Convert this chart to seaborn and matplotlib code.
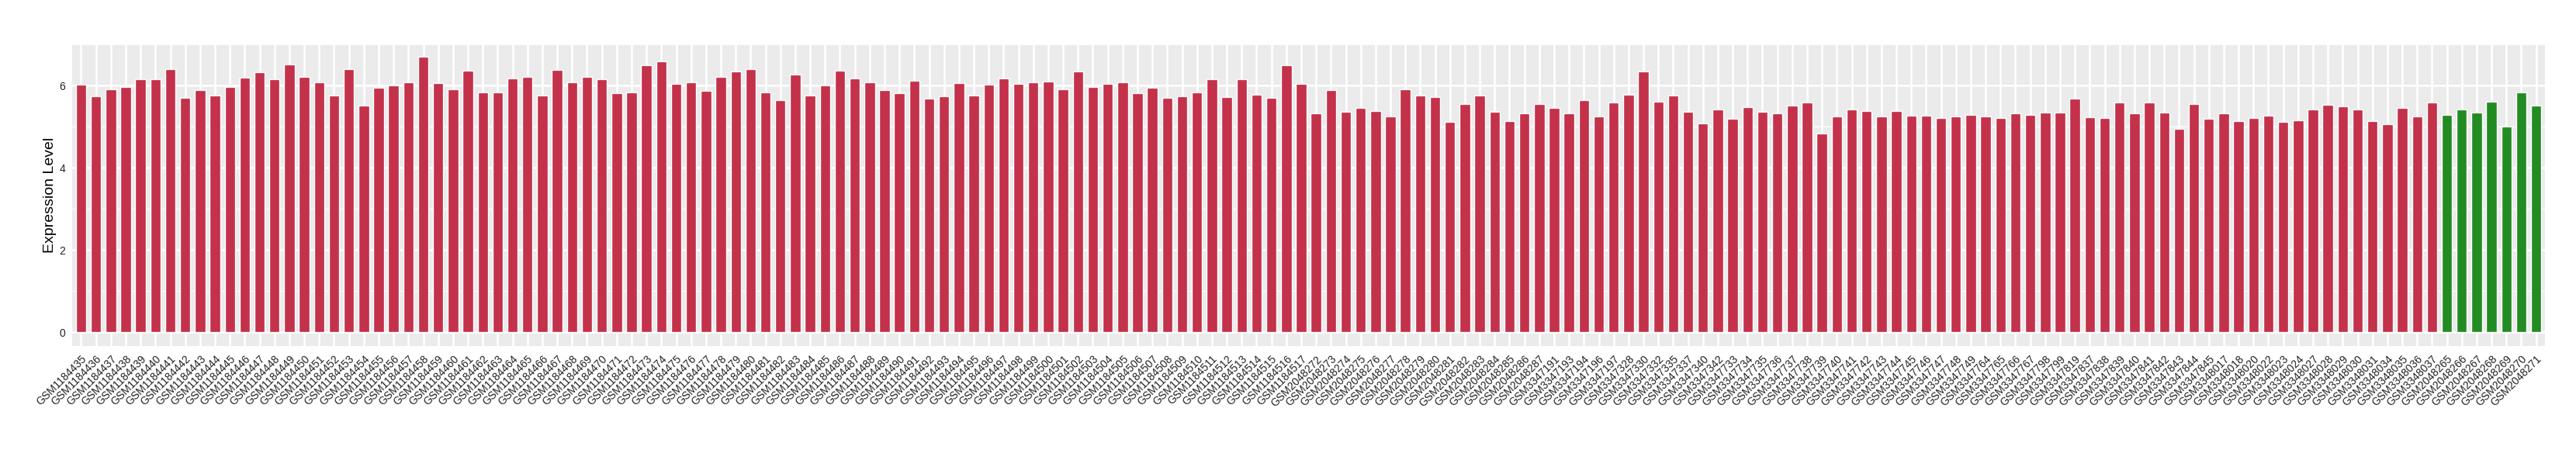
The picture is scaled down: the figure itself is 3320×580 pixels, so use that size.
import pandas as pd
import matplotlib
matplotlib.use('Agg')
import matplotlib.pyplot as plt
from matplotlib.ticker import MultipleLocator
import seaborn as sns

# samples of the first group (red bars)
red_samples = [
    'GSM1184435', 'GSM1184436', 'GSM1184437', 'GSM1184438', 'GSM1184439', 'GSM1184440', 'GSM1184441',
    'GSM1184442', 'GSM1184443', 'GSM1184444', 'GSM1184445', 'GSM1184446', 'GSM1184447', 'GSM1184448',
    'GSM1184449', 'GSM1184450', 'GSM1184451', 'GSM1184452', 'GSM1184453', 'GSM1184454', 'GSM1184455',
    'GSM1184456', 'GSM1184457', 'GSM1184458', 'GSM1184459', 'GSM1184460', 'GSM1184461', 'GSM1184462',
    'GSM1184463', 'GSM1184464', 'GSM1184465', 'GSM1184466', 'GSM1184467', 'GSM1184468', 'GSM1184469',
    'GSM1184470', 'GSM1184471', 'GSM1184472', 'GSM1184473', 'GSM1184474', 'GSM1184475', 'GSM1184476',
    'GSM1184477', 'GSM1184478', 'GSM1184479', 'GSM1184480', 'GSM1184481', 'GSM1184482', 'GSM1184483',
    'GSM1184484', 'GSM1184485', 'GSM1184486', 'GSM1184487', 'GSM1184488', 'GSM1184489', 'GSM1184490',
    'GSM1184491', 'GSM1184492', 'GSM1184493', 'GSM1184494', 'GSM1184495', 'GSM1184496', 'GSM1184497',
    'GSM1184498', 'GSM1184499', 'GSM1184500', 'GSM1184501', 'GSM1184502', 'GSM1184503', 'GSM1184504',
    'GSM1184505', 'GSM1184506', 'GSM1184507', 'GSM1184508', 'GSM1184509', 'GSM1184510', 'GSM1184511',
    'GSM1184512', 'GSM1184513', 'GSM1184514', 'GSM1184515', 'GSM1184516', 'GSM1184517',
    'GSM2048272', 'GSM2048273', 'GSM2048274', 'GSM2048275', 'GSM2048276', 'GSM2048277', 'GSM2048278',
    'GSM2048279', 'GSM2048280', 'GSM2048281', 'GSM2048282', 'GSM2048283', 'GSM2048284', 'GSM2048285',
    'GSM2048286', 'GSM2048287',
    'GSM3347191', 'GSM3347193', 'GSM3347194', 'GSM3347196', 'GSM3347197', 'GSM3347328', 'GSM3347330',
    'GSM3347332', 'GSM3347335', 'GSM3347337', 'GSM3347340', 'GSM3347342', 'GSM3347733', 'GSM3347734',
    'GSM3347735', 'GSM3347736', 'GSM3347737', 'GSM3347738', 'GSM3347739', 'GSM3347740', 'GSM3347741',
    'GSM3347742', 'GSM3347743', 'GSM3347744', 'GSM3347745', 'GSM3347746', 'GSM3347747', 'GSM3347748',
    'GSM3347749', 'GSM3347764', 'GSM3347765', 'GSM3347766', 'GSM3347767', 'GSM3347798', 'GSM3347799',
    'GSM3347819', 'GSM3347837', 'GSM3347838', 'GSM3347839', 'GSM3347840', 'GSM3347841', 'GSM3347842',
    'GSM3347843', 'GSM3347844', 'GSM3347845',
    'GSM3348017', 'GSM3348018', 'GSM3348020', 'GSM3348022', 'GSM3348023', 'GSM3348024', 'GSM3348027',
    'GSM3348028', 'GSM3348029', 'GSM3348030', 'GSM3348031', 'GSM3348034', 'GSM3348035', 'GSM3348036',
    'GSM3348037',
]
red_values = [
    6.02, 5.74, 5.92, 5.97, 6.16, 6.16, 6.41, 5.70, 5.89, 5.77, 5.97, 6.19, 6.32, 6.16,
    6.51, 6.21, 6.08, 5.76, 6.41, 5.51, 5.95, 6.00, 6.09, 6.70, 6.06, 5.92, 6.36,
    5.83, 5.83, 6.17, 6.22, 5.76, 6.38, 6.09, 6.21, 6.16, 5.81, 5.83, 6.49, 6.60, 6.04,
    6.09, 5.87, 6.21, 6.34, 6.41, 5.83, 5.65, 6.27, 5.76, 6.00, 6.36, 6.17, 6.08, 5.89, 5.81,
    6.13, 5.68, 5.74, 6.06, 5.77, 6.02, 6.17, 6.04, 6.08, 6.11, 5.92, 6.34, 5.97, 6.04,
    6.08, 5.81, 5.95, 5.70, 5.74, 5.83, 6.16, 5.72, 6.16, 5.79, 5.70, 6.49, 6.04,
    5.32, 5.90, 5.36, 5.46, 5.39, 5.25, 5.92, 5.77, 5.72, 5.12, 5.55, 5.76, 5.36, 5.14,
    5.32, 5.55,
    5.46, 5.32, 5.65, 5.25, 5.60, 5.79, 6.34, 5.62, 5.77, 5.36, 5.09, 5.42, 5.19, 5.47,
    5.36, 5.32, 5.51, 5.60, 4.83, 5.25, 5.42, 5.39, 5.25, 5.38, 5.28, 5.28, 5.21, 5.26,
    5.30, 5.25, 5.21, 5.32, 5.30, 5.34, 5.34, 5.68, 5.23, 5.21, 5.60, 5.32, 5.60, 5.34,
    4.95, 5.55, 5.19,
    5.32, 5.14, 5.21, 5.28, 5.12, 5.15, 5.42, 5.53, 5.49, 5.42, 5.14, 5.07, 5.46, 5.25,
    5.60,
]

# samples of the second group (green bars)
green_samples = ['GSM2048265', 'GSM2048266', 'GSM2048267', 'GSM2048268', 'GSM2048269', 'GSM2048270', 'GSM2048271']
green_values = [5.30, 5.42, 5.34, 5.62, 5.00, 5.83, 5.51]

colors = {'red': '#C3314A', 'green': '#228B22'}

df = pd.DataFrame({
    'Sample': red_samples + green_samples,
    'Expression': red_values + green_values,
    'Group': ['red'] * len(red_samples) + ['green'] * len(green_samples),
})
n = len(df)

sns.set_theme(style='darkgrid', rc={'axes.facecolor': '#EBEBEB', 'grid.color': 'white'})
plt.rcParams['font.family'] = ['Liberation Sans', 'DejaVu Sans']

fig, ax = plt.subplots(figsize=(33.2, 5.8), dpi=100)
fig.subplots_adjust(left=0.028, right=0.988, top=0.901, bottom=0.231)

sns.barplot(data=df, x='Sample', y='Expression', hue='Group', palette=colors,
            dodge=False, width=0.7, saturation=1, legend=False, ax=ax, order=list(df['Sample']))

ax.set_xlim(-0.6, n - 0.4)
ax.set_ylim(-0.333, 7.0)
ax.set_yticks([0, 2, 4, 6])
ax.yaxis.set_minor_locator(MultipleLocator(1))

ax.set_axisbelow(True)
ax.grid(False)
ax.yaxis.grid(True, which='major', color='white', linewidth=1.8)
ax.yaxis.grid(True, which='minor', color='white', linewidth=0.9)
ax.xaxis.grid(True, which='major', color='white', linewidth=1.8)
for s in ax.spines.values():
    s.set_visible(False)

ax.set_xticks(range(n))
ax.set_xticklabels(df['Sample'], rotation=45, ha='right', rotation_mode='anchor',
                   fontsize=10, color='#222222')
ax.tick_params(axis='both', which='major', length=4, width=1, color='#333333',
               labelsize=10, labelcolor='#222222', pad=2.5)
ax.tick_params(axis='y', which='minor', length=0)
ax.tick_params(axis='x', pad=3)

ax.set_xlabel('')
ax.set_ylabel('Expression Level', fontsize=14, color='black')
ax.yaxis.set_label_coords(-0.0062, 0.5)

fig.savefig('out.png', dpi=100)
